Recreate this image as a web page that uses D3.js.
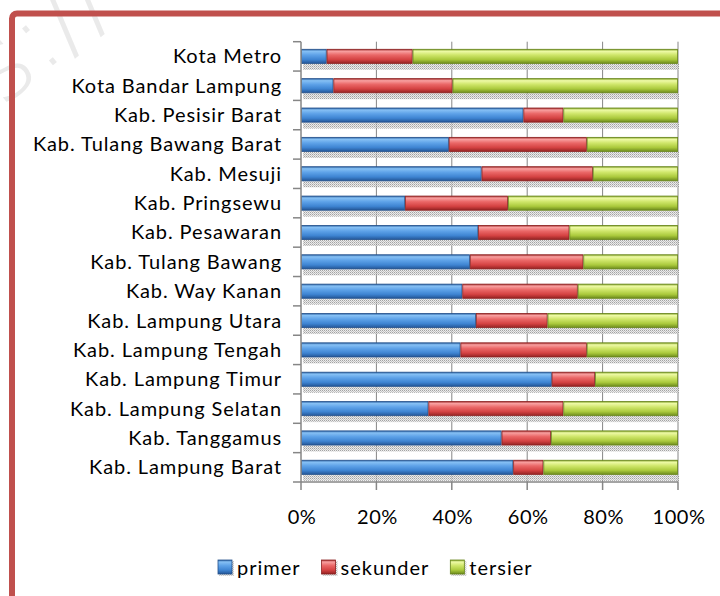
<!DOCTYPE html>
<html>
<head>
<meta charset="utf-8">
<script src="https://cdn.jsdelivr.net/npm/d3@7"></script>
<style>
  html, body { margin: 0; padding: 0; background: #fff; }
  svg { display: block; }
  text { font-family: Lato, "Open Sans", sans-serif; fill: #000; }
</style>
</head>
<body>
<div id="chart"></div>
<script>
// Regencies / cities, listed top to bottom as drawn
const categories = [
  "Kota Metro",
  "Kota Bandar Lampung",
  "Kab. Pesisir Barat",
  "Kab. Tulang Bawang Barat",
  "Kab. Mesuji",
  "Kab. Pringsewu",
  "Kab. Pesawaran",
  "Kab. Tulang Bawang",
  "Kab. Way Kanan",
  "Kab. Lampung Utara",
  "Kab. Lampung Tengah",
  "Kab. Lampung Timur",
  "Kab. Lampung Selatan",
  "Kab. Tanggamus",
  "Kab. Lampung Barat"
];

// Share of each sector (%), same order as categories
const primer   = [6.8, 8.6, 59.0, 39.2, 47.9, 27.6, 47.0, 44.8, 42.8, 46.4, 42.3, 66.5, 33.8, 53.2, 56.3];
const sekunder = [22.8, 31.6, 10.6, 36.6, 29.5, 27.3, 24.2, 30.1, 30.6, 19.0, 33.5, 11.5, 35.8, 13.1, 8.0];
const tersier  = [70.4, 59.8, 30.4, 24.2, 22.6, 45.1, 28.8, 25.1, 26.6, 34.6, 24.2, 22.0, 30.4, 33.7, 35.7];

const seriesNames = ["primer", "sekunder", "tersier"];
const tickValues = [0, 20, 40, 60, 80, 100];
const tickLabels = ["0%", "20%", "40%", "60%", "80%", "100%"];

const W = 720, H = 596;
const svg = d3.select("#chart").append("svg").attr("width", W).attr("height", H);
const defs = svg.append("defs");

// Faint watermark in the top-left corner
svg.append("text")
  .attr("transform", "translate(2,108) rotate(-40)")
  .style("font-family", "'DejaVu Sans'")
  .style("font-weight", 200)
  .style("font-size", "100px")
  .style("fill", "#eaeaea")
  .text("s://W");

// Frame
svg.append("rect")
  .attr("x", 12).attr("y", 13.5)
  .attr("width", 900).attr("height", 800)
  .attr("rx", 5)
  .attr("fill", "none")
  .attr("stroke", "#c0504d")
  .attr("stroke-width", 6);

// Glossy gradients for the three series
const palettes = {
  primer:   ["#2d64a4", "#86c0f4", "#5ea2e8", "#3e84d2", "#235596"],
  sekunder: ["#a53030", "#f8a0a0", "#ea6767", "#d44242", "#932222"],
  tersier:  ["#84a52a", "#eefaa6", "#cfe66a", "#aac93c", "#6c8a1c"]
};
const edge = { primer: "#24508a", sekunder: "#8a2020", tersier: "#66831a" };
seriesNames.forEach(name => {
  const g = defs.append("linearGradient")
    .attr("id", "grad-" + name)
    .attr("x1", 0).attr("y1", 0).attr("x2", 0).attr("y2", 1);
  const c = palettes[name];
  [[0, c[0]], [0.14, c[1]], [0.4, c[2]], [0.72, c[3]], [1, c[4]]].forEach(([o, col]) =>
    g.append("stop").attr("offset", o).attr("stop-color", col));
});

// Speckled shadow under the bars
const pat = defs.append("pattern")
  .attr("id", "speckle")
  .attr("width", 2).attr("height", 2)
  .attr("patternUnits", "userSpaceOnUse");
pat.append("rect").attr("width", 2).attr("height", 2).attr("fill", "#e6e6e6");
pat.append("rect").attr("x", 0).attr("y", 0).attr("width", 1).attr("height", 1).attr("fill", "#8c8c8c");
pat.append("rect").attr("x", 1).attr("y", 1).attr("width", 1).attr("height", 1).attr("fill", "#b4b4b4");

// Scales
const x = d3.scaleLinear().domain([0, 100]).range([301, 678]);
const y = d3.scaleBand().domain(categories).range([41.7, 482]).paddingInner(0.49).paddingOuter(0.245);

// Stacked data
const rows = categories.map((c, i) => ({ cat: c, primer: primer[i], sekunder: sekunder[i], tersier: tersier[i] }));
const stacked = d3.stack().keys(seriesNames).offset(d3.stackOffsetExpand)(rows);
const xs = d3.scaleLinear().domain([0, 1]).range(x.range());

// Gridlines
const gridColor = "#868686";
svg.append("g").selectAll("line")
  .data(tickValues.slice(1))
  .join("line")
  .attr("x1", d => x(d)).attr("x2", d => x(d))
  .attr("y1", 41.7).attr("y2", 482)
  .attr("stroke", gridColor).attr("stroke-width", 1);

// Shadows
svg.append("g").selectAll("rect")
  .data(categories)
  .join("rect")
  .attr("x", x(0) + 2)
  .attr("y", d => y(d) + y.bandwidth())
  .attr("width", x(100) - x(0) - 1)
  .attr("height", 6)
  .attr("fill", "url(#speckle)")
  .attr("opacity", 0.8);

// Bars
svg.append("g").selectAll("g")
  .data(stacked)
  .join("g")
  .attr("fill", d => "url(#grad-" + d.key + ")")
  .attr("stroke", d => edge[d.key])
  .attr("stroke-width", 0.8)
  .selectAll("rect")
  .data(d => d)
  .join("rect")
  .attr("x", d => xs(d[0]) + 0.4)
  .attr("y", d => y(d.data.cat) + 0.4)
  .attr("width", d => xs(d[1]) - xs(d[0]) - 0.8)
  .attr("height", y.bandwidth() - 0.8);

// Y axis
const yAxis = svg.append("g").attr("transform", "translate(301,0)");
yAxis.append("line")
  .attr("x1", 0).attr("x2", 0).attr("y1", 41.7).attr("y2", 482)
  .attr("stroke", gridColor).attr("stroke-width", 1.5);
const bounds = categories.map(c => y(c) - y.step() * y.paddingInner() / 2);
bounds.push(482);
yAxis.selectAll("line.tick")
  .data(bounds)
  .join("line")
  .attr("class", "tick")
  .attr("x1", -8).attr("x2", 0)
  .attr("y1", d => d).attr("y2", d => d)
  .attr("stroke", gridColor).attr("stroke-width", 1.5);
svg.append("g").selectAll("text")
  .data(categories)
  .join("text")
  .attr("x", 282)
  .attr("y", d => y(d) + y.bandwidth() / 2 + 7)
  .attr("text-anchor", "end")
  .style("font-size", "20px")
  .style("letter-spacing", "0.9px")
  .text(d => d);

// X axis
const xAxis = svg.append("g").attr("transform", "translate(0,482)");
xAxis.append("line")
  .attr("x1", 301).attr("x2", 678)
  .attr("stroke", gridColor).attr("stroke-width", 1.5);
xAxis.selectAll("line.tick")
  .data(tickValues)
  .join("line")
  .attr("class", "tick")
  .attr("x1", d => x(d)).attr("x2", d => x(d))
  .attr("y1", 0).attr("y2", 8)
  .attr("stroke", gridColor).attr("stroke-width", 1.5);
xAxis.selectAll("text")
  .data(tickValues)
  .join("text")
  .attr("x", d => x(d) + 1)
  .attr("y", 42)
  .attr("text-anchor", "middle")
  .style("font-size", "20px")
  .style("letter-spacing", "0.5px")
  .text((d, i) => tickLabels[i]);

// Legend
const legend = svg.append("g");
let lx = 218;
seriesNames.forEach(name => {
  const item = legend.append("g");
  item.append("rect")
    .attr("x", lx + 1).attr("y", 561)
    .attr("width", 15).attr("height", 15)
    .attr("fill", "url(#speckle)").attr("opacity", 0.7);
  item.append("rect")
    .attr("x", lx).attr("y", 560)
    .attr("width", 14).attr("height", 14)
    .attr("fill", "url(#grad-" + name + ")")
    .attr("stroke", edge[name]).attr("stroke-width", 0.8);
  const t = item.append("text")
    .attr("x", lx + 19).attr("y", 575)
    .style("font-size", "20px")
    .style("letter-spacing", "1px")
    .text(name);
  lx += 19 + t.node().getComputedTextLength() + 21;
});
</script>
</body>
</html>
